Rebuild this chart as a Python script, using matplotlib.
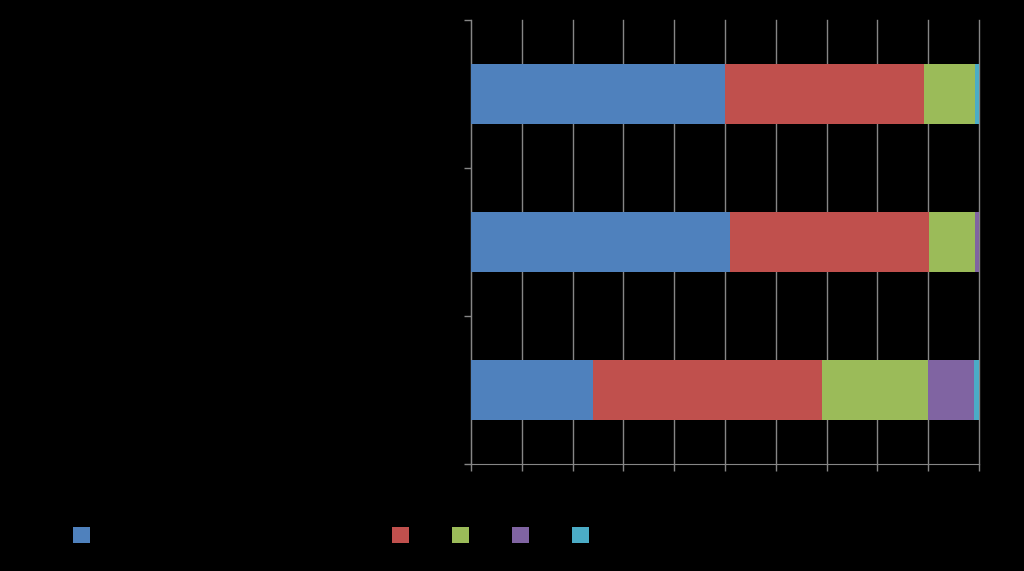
import matplotlib.pyplot as plt
from matplotlib.patches import Patch
import numpy as np

# categories (bottom to top) and the share of each series, in percent
categories = ['Catégorie 1', 'Catégorie 2', 'Catégorie 3']
serie1 = [24, 51, 50]
serie2 = [45, 39.2, 39.2]
serie3 = [21, 9, 10]
serie4 = [9, 0.8, 0]
serie5 = [1, 0, 0.8]

series = [serie1, serie2, serie3, serie4, serie5]
colors = ['#4F81BD', '#C0504D', '#9BBB59', '#8064A2', '#4BACC6']
gris = '#868686'

fig = plt.figure(figsize=(10.24, 5.71), dpi=100, facecolor='black')
ax = fig.add_axes([471 / 1024, 1 - 464 / 571, (979 - 471) / 1024, (464 - 20) / 571])
ax.set_facecolor('black')

y = np.arange(len(categories))
left = np.zeros(len(categories))
for vals, c in zip(series, colors):
    ax.barh(y, vals, left=left, height=0.4, color=c, zorder=3)
    left += np.array(vals)

ax.set_xlim(0, 100)
ax.set_ylim(-0.5, len(categories) - 0.5)
ax.set_xticks(np.arange(0, 101, 10))
ax.set_yticks(np.arange(-0.5, len(categories), 1))
ax.set_xticklabels([])
ax.set_yticklabels([])
ax.tick_params(colors=gris, length=5, width=1, direction='out')
ax.grid(axis='x', color=gris, linewidth=1, zorder=0)
for gl in ax.get_xgridlines():
    gl.set_clip_on(False)
for s in ['top', 'right']:
    ax.spines[s].set_visible(False)
for s in ['left', 'bottom']:
    ax.spines[s].set_color(gris)

# légende (texte noir sur fond noir, comme l'original)
h1 = [Patch(facecolor=colors[0])]
leg1 = fig.legend(h1, [''], loc='center', bbox_to_anchor=(87 / 1024, 1 - 535 / 571),
                  frameon=False, handlelength=1.2, handleheight=1.3)
fig.add_artist(leg1)
h2 = [Patch(facecolor=c) for c in colors[1:]]
fig.legend(h2, ['', '', '', ''], loc='center', bbox_to_anchor=(492 / 1024, 1 - 535 / 571),
           ncol=4, frameon=False, handlelength=1.2, handleheight=1.3,
           columnspacing=2.92, handletextpad=0.2)

plt.savefig('out.png', dpi=100, facecolor='black')
